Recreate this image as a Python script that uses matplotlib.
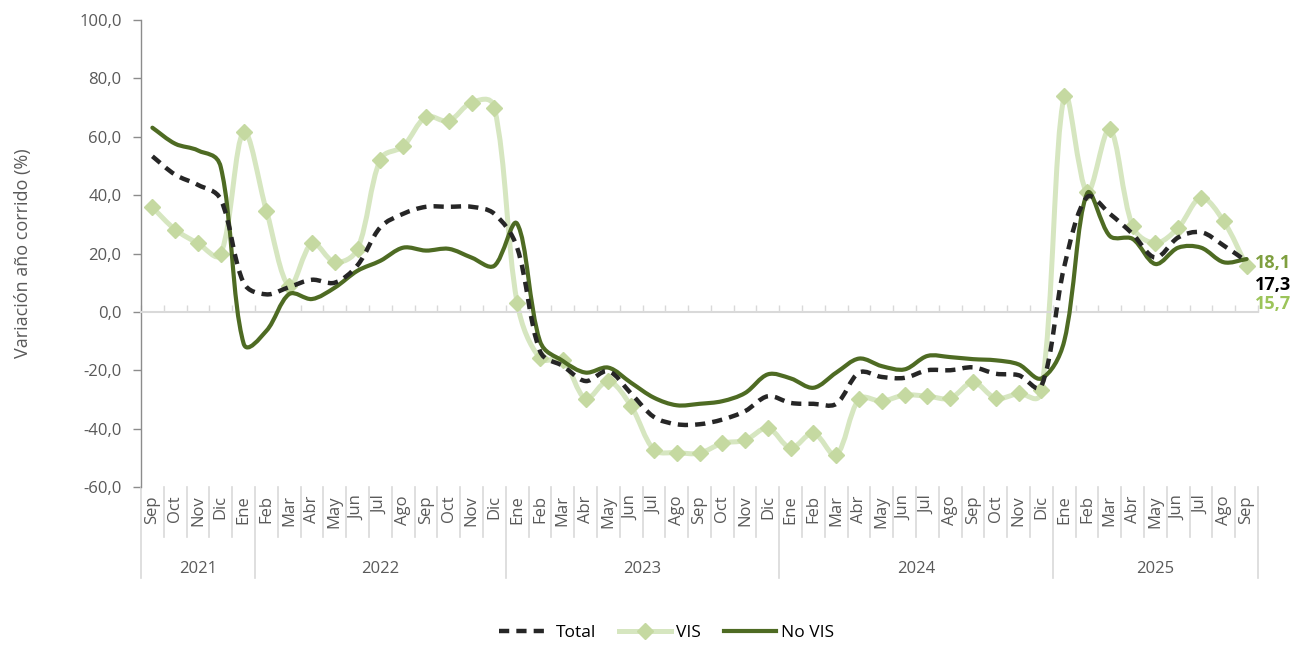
import matplotlib
matplotlib.use("Agg")
import matplotlib.pyplot as plt
from matplotlib.path import Path
from matplotlib.patches import PathPatch
from matplotlib.lines import Line2D
import numpy as np

plt.rcParams['font.family'] = ['Open Sans', 'DejaVu Sans']

months = ['Sep', 'Oct', 'Nov', 'Dic',
          'Ene', 'Feb', 'Mar', 'Abr', 'May', 'Jun', 'Jul', 'Ago', 'Sep', 'Oct', 'Nov', 'Dic',
          'Ene', 'Feb', 'Mar', 'Abr', 'May', 'Jun', 'Jul', 'Ago', 'Sep', 'Oct', 'Nov', 'Dic',
          'Ene', 'Feb', 'Mar', 'Abr', 'May', 'Jun', 'Jul', 'Ago', 'Sep', 'Oct', 'Nov', 'Dic',
          'Ene', 'Feb', 'Mar', 'Abr', 'May', 'Jun', 'Jul', 'Ago', 'Sep']
years = ['2021', '2022', '2023', '2024', '2025']
year_sizes = [5, 11, 12, 12, 9]

total = [53.3, 47.0, 43.5, 38.5,
         10.0, 6.0, 8.5, 11.0, 10.0, 16.0, 29.0, 33.6, 36.0, 36.0, 36.0, 33.6,
         22.0, -13.4, -18.5, -23.7, -20.3, -28.0, -36.0, -38.5, -38.5, -36.9, -34.0, -28.9,
         -31.2, -31.5, -31.5, -20.8, -22.3, -22.6, -20.0, -20.0, -19.0, -21.2, -21.7, -25.4,
         15.5, 39.3, 33.6, 26.7, 18.6, 25.5, 27.3, 22.7, 17.3]
vis = [35.8, 28.2, 23.5, 19.8,
       61.6, 34.7, 8.9, 23.5, 17.0, 21.6, 52.2, 56.7, 66.8, 65.4, 71.7, 70.0,
       3.2, -15.9, -16.5, -29.7, -23.7, -32.3, -47.2, -48.2, -48.4, -45.0, -44.0, -39.8,
       -46.6, -41.5, -49.0, -29.9, -30.6, -28.5, -28.9, -29.6, -24.1, -29.6, -27.9, -26.9,
       74.0, 41.0, 62.6, 29.3, 23.6, 28.8, 39.1, 31.0, 15.7]
novis = [63.1, 57.6, 55.3, 49.6,
         -10.8, -6.5, 6.1, 4.4, 8.3, 14.1, 17.5, 22.0, 21.0, 21.6, 18.6, 15.8,
         30.2, -10.0, -16.8, -20.8, -19.1, -24.3, -29.4, -32.0, -31.5, -30.6, -27.8, -21.4,
         -22.8, -26.0, -20.8, -16.0, -18.6, -19.7, -15.1, -15.5, -16.2, -16.6, -18.0, -22.8,
         -10.0, 40.5, 26.0, 25.0, 16.4, 22.0, 22.0, 17.0, 18.1]

C_TOTAL = '#262626'
C_VIS = '#d6e6c0'
C_VIS_MK = '#c5d9a1'
C_NOVIS = '#4e6b23'
C_GRID = '#d9d9d9'
C_TXT = '#595959'

fig = plt.figure(figsize=(12.99, 6.46), dpi=100)
ax = fig.add_axes([141 / 1299, 1 - 487 / 646, 1117 / 1299, 467 / 646])
x = np.arange(len(months))
ax.set_xlim(-0.5, len(months) - 0.5)
ax.set_ylim(-60, 100)


def smooth_path(xs, ys):
    """Excel-like smoothed line: Bezier segments whose control arms scale with
    the on-screen length of the neighbouring segments."""
    pts = ax.transData.transform(np.column_stack([xs, ys]))
    n = len(pts)
    inv = ax.transData.inverted()
    verts = [pts[0]]
    codes = [Path.MOVETO]

    def seglen(a, b):
        return np.hypot(*(pts[b] - pts[a]))

    for i in range(n - 1):
        i0 = max(i - 1, 0)
        i3 = min(i + 2, n - 1)
        l01 = seglen(i0, i)
        l12 = seglen(i, i + 1)
        l23 = seglen(i + 1, i3)
        f1 = l12 / (l01 + l12) if (l01 + l12) > 0 else 0.5
        f2 = l12 / (l12 + l23) if (l12 + l23) > 0 else 0.5
        # blend towards plain Catmull-Rom to keep a little of Excel's overshoot
        f1 = 0.75 * f1 + 0.25 * 0.5
        f2 = 0.75 * f2 + 0.25 * 0.5
        c1 = pts[i] + (pts[i + 1] - pts[i0]) * f1 / 3.0
        c2 = pts[i + 1] - (pts[i3] - pts[i]) * f2 / 3.0
        verts += [c1, c2, pts[i + 1]]
        codes += [Path.CURVE4] * 3
    verts = inv.transform(np.array(verts))
    return Path(verts, codes)


# lines
ax.add_patch(PathPatch(smooth_path(x, vis), fill=False, edgecolor=C_VIS, lw=3.6,
                       capstyle='round', joinstyle='round', zorder=2))
ax.plot(x, vis, linestyle='none', marker='D', markersize=8, color=C_VIS_MK, zorder=3)
ax.add_patch(PathPatch(smooth_path(x, novis), fill=False, edgecolor=C_NOVIS, lw=3.0,
                       capstyle='round', joinstyle='round', zorder=4))
ax.add_patch(PathPatch(smooth_path(x, total), fill=False, edgecolor=C_TOTAL, lw=3.2,
                       linestyle=(0, (2.3, 1.6)), capstyle='butt', zorder=5))

# y axis
yt = np.arange(-60, 101, 20)
ax.set_yticks(yt)
ax.set_yticklabels([f"{v:.1f}".replace('.', ',') for v in yt], color=C_TXT, fontsize=12)
ax.tick_params(axis='y', direction='out', length=6, width=1, color='#8c8c8c', pad=8)
ax.spines['left'].set_color('#8c8c8c')
ax.spines['left'].set_linewidth(1)
ax.spines['top'].set_visible(False)
ax.spines['right'].set_visible(False)
ax.spines['bottom'].set_position(('data', 0))
ax.spines['bottom'].set_color(C_GRID)
ax.spines['bottom'].set_linewidth(1.5)
ax.set_xticks(np.arange(len(months) + 1) - 0.5)
ax.set_xticklabels([])
ax.tick_params(axis='x', direction='in', length=5, width=1, color=C_GRID)
ax.set_ylabel('Variación año corrido (%)', color=C_TXT, fontsize=13, labelpad=34)

# month labels and separators
trans = ax.get_xaxis_transform()
for i, m in enumerate(months):
    ax.annotate(m, xy=(i, 0), xycoords=trans, xytext=(0, -6), textcoords='offset points',
                rotation=90, ha='center', va='top', color=C_TXT, fontsize=12,
                annotation_clip=False)
year_bounds = np.concatenate([[0], np.cumsum(year_sizes)]) - 0.5
for b in np.arange(len(months) + 1) - 0.5:
    is_year = np.any(np.isclose(year_bounds, b))
    ln = Line2D([b, b], [0, -0.107 if not is_year else -0.195], transform=trans,
                color=C_GRID, lw=1.2, clip_on=False)
    ax.add_line(ln)
for k, yl in enumerate(years):
    cx = (year_bounds[k] + year_bounds[k + 1]) / 2
    ax.annotate(yl, xy=(cx, 0), xycoords=trans, xytext=(0, -53), textcoords='offset points',
                ha='center', va='top', color=C_TXT, fontsize=12, annotation_clip=False)

# end labels
last = len(months) - 1
ax.annotate(f"{novis[-1]:.1f}".replace('.', ','), xy=(last, novis[-1]), xytext=(6, -3),
            textcoords='offset points', ha='left', va='center', fontsize=13,
            fontweight='bold', color='#7f9f3f', annotation_clip=False)
ax.annotate(f"{total[-1]:.1f}".replace('.', ','), xy=(last, total[-1]), xytext=(6, -17),
            textcoords='offset points', ha='left', va='center', fontsize=13,
            fontweight='bold', color='#000000', annotation_clip=False)
ax.annotate(f"{vis[-1]:.1f}".replace('.', ','), xy=(last, vis[-1]), xytext=(6, -27.5),
            textcoords='offset points', ha='left', va='center', fontsize=13,
            fontweight='bold', color='#9cc45a', annotation_clip=False)

# legend
handles = [Line2D([], [], color=C_TOTAL, lw=3.2, linestyle=(0, (2.3, 1.6))),
           Line2D([], [], color=C_VIS, lw=3.6, marker='D', markersize=8,
                  markerfacecolor=C_VIS_MK, markeredgecolor=C_VIS_MK),
           Line2D([], [], color=C_NOVIS, lw=3.0)]
fig.legend(handles, ['Total', 'VIS', 'No VIS'], loc='center', bbox_to_anchor=(0.513, 0.02),
           ncol=3, frameon=False, fontsize=12.5, handlelength=3.0, columnspacing=1.3,
           handletextpad=0.3)

fig.savefig('out.png', dpi=100, facecolor='white')
